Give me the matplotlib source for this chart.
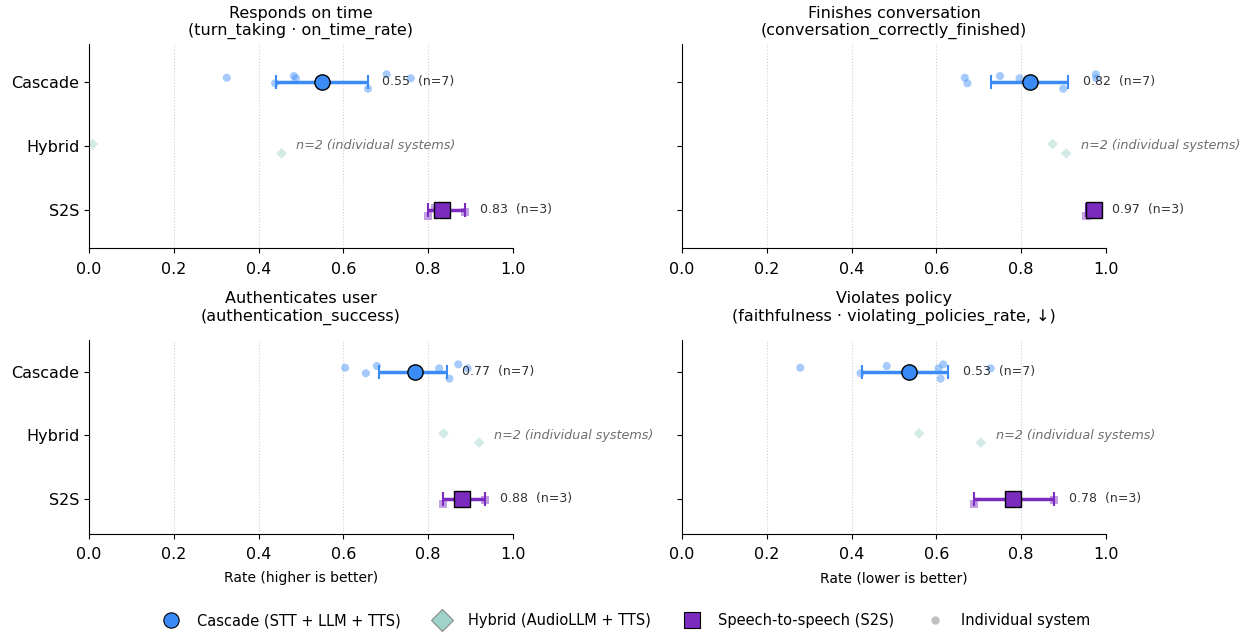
import numpy as np
import matplotlib
matplotlib.use("Agg")
import matplotlib.pyplot as plt
from matplotlib.lines import Line2D

# --- data ---
groups = ["Cascade", "Hybrid", "S2S"]

titles = [
    "Responds on time\n(turn_taking · on_time_rate)",
    "Finishes conversation\n(conversation_correctly_finished)",
    "Authenticates user\n(authentication_success)",
    "Violates policy\n(faithfulness · violating_policies_rate, ↓)",
]
xlabels = ["", "", "Rate (higher is better)", "Rate (lower is better)"]

cascade_vals = [
    [0.325, 0.439, 0.483, 0.488, 0.658, 0.702, 0.759],
    [0.667, 0.673, 0.750, 0.796, 0.899, 0.976, 0.977],
    [0.604, 0.653, 0.679, 0.826, 0.850, 0.871, 0.893],
    [0.279, 0.421, 0.483, 0.605, 0.610, 0.616, 0.728],
]
hybrid_vals = [
    [0.009, 0.454],
    [0.874, 0.906],
    [0.836, 0.920],
    [0.559, 0.705],
]
s2s_vals = [
    [0.799, 0.815, 0.887],
    [0.954, 0.978, 0.980],
    [0.834, 0.872, 0.934],
    [0.688, 0.775, 0.877],
]
# bootstrap CI bounds (lo, hi)
cascade_ci = [(0.440, 0.657), (0.728, 0.911), (0.685, 0.844), (0.424, 0.628)]
s2s_ci = [(0.799, 0.887), (0.954, 0.980), (0.834, 0.934), (0.688, 0.877)]

# fixed vertical jitter for individual points (sorted order)
jit_cascade = [-0.067, 0.02, -0.094, -0.058, 0.105, -0.12, -0.058]
jit_hybrid = [-0.03, 0.115]
jit_s2s = [0.09, -0.03, 0.027]

C_CAS = "#3b8bf7"
C_HYB = "#9fd3ca"
C_S2S = "#7b2cbf"

fig = plt.figure(figsize=(12.47, 6.34), dpi=100)

W, H = 1247, 634
rects = []
for top, bot, in [(43.6, 248.4), (340.3, 533.5)]:
    for left, right in [(89, 513), (682, 1106)]:
        rects.append([left / W, 1 - bot / H, (right - left) / W, (bot - top) / H])
ylims = [(2.6, -0.6), (2.6, -0.6), (2.55, -0.5), (2.55, -0.5)]
title_pads = [6, 6, 14, 14]

for i in range(4):
    ax = fig.add_axes(rects[i])
    ax.set_xlim(0, 1)
    ax.set_ylim(*ylims[i])
    ax.set_yticks([0, 1, 2])
    if i % 2 == 0:
        ax.set_yticklabels(groups, fontsize=11.5)
    else:
        ax.set_yticklabels([])
    ax.set_xticks(np.arange(0, 1.01, 0.2))
    ax.tick_params(axis="x", labelsize=11.5, pad=6)
    ax.xaxis.grid(True, linestyle=":", color="#d0d0d0", linewidth=0.8)
    ax.set_axisbelow(True)
    for s in ["top", "right"]:
        ax.spines[s].set_visible(False)
    ax.set_title(titles[i], fontsize=11.5, pad=title_pads[i])
    if xlabels[i]:
        ax.set_xlabel(xlabels[i], fontsize=10, labelpad=7)

    # cascade
    v = np.array(cascade_vals[i])
    ax.scatter(v, 0 + np.array(jit_cascade), s=34, color=C_CAS, alpha=0.45,
               edgecolors="none", zorder=2)
    m = v.mean()
    lo, hi = cascade_ci[i]
    ax.errorbar(m, 0, xerr=[[m - lo], [hi - m]], fmt="none", ecolor=C_CAS,
                elinewidth=2.5, capsize=5, capthick=1.5, zorder=3)
    ax.plot(m, 0, "o", ms=11, color=C_CAS, mec="black", mew=1, zorder=4)
    ax.text(hi + 0.035, 0, f"{m:.2f}  (n={len(v)})", va="center", fontsize=9,
            color="#333333")

    # hybrid
    v = np.array(hybrid_vals[i])
    ax.scatter(v, 1 + np.array(jit_hybrid), s=30, marker="D", color=C_HYB,
               alpha=0.45, edgecolors="none", zorder=2)
    ax.text(v.max() + 0.035, 1, f"n={len(v)} (individual systems)", va="center",
            fontsize=9.2, style="italic", color="#6e6e6e")

    # s2s
    v = np.array(s2s_vals[i])
    ax.scatter(v, 2 + np.array(jit_s2s), s=34, marker="s", color=C_S2S,
               alpha=0.45, edgecolors="none", zorder=2)
    m = v.mean()
    lo, hi = s2s_ci[i]
    ax.errorbar(m, 2, xerr=[[m - lo], [hi - m]], fmt="none", ecolor=C_S2S,
                elinewidth=2.5, capsize=5, capthick=1.5, zorder=3)
    ax.plot(m, 2, "s", ms=11, color=C_S2S, mec="black", mew=1, zorder=4)
    ax.text(hi + 0.035, 2, f"{m:.2f}  (n={len(v)})", va="center", fontsize=9,
            color="#333333")

handles = [
    Line2D([], [], marker="o", ls="none", ms=11, color=C_CAS, mec="black", mew=0.8,
           label="Cascade (STT + LLM + TTS)"),
    Line2D([], [], marker="D", ls="none", ms=11, color=C_HYB, mec="#888888", mew=0.8,
           label="Hybrid (AudioLLM + TTS)"),
    Line2D([], [], marker="s", ls="none", ms=11, color=C_S2S, mec="black", mew=0.8,
           label="Speech-to-speech (S2S)"),
    Line2D([], [], marker="o", ls="none", ms=5, color="#bbbbbb", alpha=0.9,
           label="Individual system"),
]
fig.legend(handles=handles, loc="center", bbox_to_anchor=(0.5, 1 - 621 / H),
           ncol=4, frameon=False, fontsize=10.5, columnspacing=1.8, handletextpad=0.8)

fig.savefig("out.png", dpi=100)
